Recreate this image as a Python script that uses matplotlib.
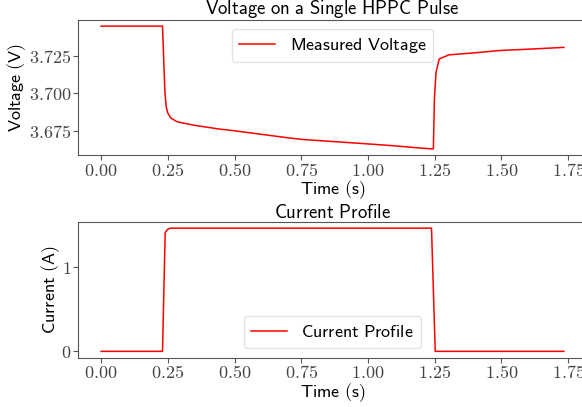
import matplotlib.pyplot as plt
from matplotlib.ticker import FuncFormatter

# time / voltage samples
volt_t = [0.00, 0.10, 0.20, 0.230, 0.235, 0.239, 0.244, 0.250, 0.260, 0.283, 0.30,
          0.35, 0.445, 0.482, 0.60, 0.70, 0.755, 0.88, 1.005, 1.10, 1.192, 1.238,
          1.245, 1.249, 1.255, 1.267, 1.304, 1.40, 1.491, 1.60, 1.734]
volt_v = [3.7444, 3.7444, 3.7444, 3.7444, 3.7200, 3.7010, 3.6910, 3.6871, 3.6840, 3.6815, 3.6808,
          3.6790, 3.6765, 3.6758, 3.6731, 3.6708, 3.6697, 3.6682, 3.6667, 3.6655, 3.6641, 3.6635,
          3.6635, 3.6970, 3.7140, 3.7228, 3.7255, 3.7268, 3.7283, 3.7292, 3.7304]

curr_t = [0.00, 0.10, 0.20, 0.230, 0.240, 0.250, 0.260, 0.50, 0.75, 1.00, 1.238, 1.252, 1.50, 1.734]
curr_a = [0.0, 0.0, 0.0, 0.0, 1.40, 1.44, 1.452, 1.452, 1.452, 1.452, 1.452, 0.0, 0.0, 0.0]

plt.rcParams["mathtext.fontset"] = "cm"
plt.rcParams["font.size"] = 13


def sf(s):
    return r"$\mathsf{" + s.replace(" ", r"\ ") + "}$"


def style(ax, fmt):
    for sp in ax.spines.values():
        sp.set_color("#555555")
    ax.tick_params(colors="#555555", labelcolor="#444444", length=3.5, width=0.8,
                   labelsize=13, pad=1.5)
    ax.xaxis.set_major_formatter(FuncFormatter(lambda v, p: "$%.2f$" % v))
    ax.yaxis.set_major_formatter(FuncFormatter(fmt))


fig = plt.figure(figsize=(5.82, 4.07), dpi=100)
ax1 = fig.add_axes([78 / 582, 1 - 155 / 407, 509 / 582, 135 / 407])
ax2 = fig.add_axes([78 / 582, 1 - 357.5 / 407, 509 / 582, 135.5 / 407])

ax1.plot(volt_t, volt_v, color="red", lw=1.1, label=sf("Measured Voltage"))
ax1.set_title(sf("Voltage on a Single HPPC Pulse"), fontsize=13.5, pad=1.5)
ax1.set_xlabel(sf("Time (s)"), labelpad=-1)
ax1.set_ylabel(sf("Voltage (V)"))
ax1.yaxis.set_label_coords(-0.098, 0.5)
ax1.set_yticks([3.675, 3.700, 3.725])
style(ax1, lambda v, p: "$%.3f$" % v)
ax1.legend(loc="upper center", fancybox=True, edgecolor="#dddddd")

ax2.plot(curr_t, curr_a, color="red", lw=1.1, label=sf("Current Profile"))
ax2.set_title(sf("Current Profile"), fontsize=13.5, pad=3)
ax2.set_xlabel(sf("Time (s)"), labelpad=-1)
ax2.set_ylabel(sf("Current (A)"))
ax2.yaxis.set_label_coords(-0.031, 0.5)
ax2.set_yticks([0, 1])
style(ax2, lambda v, p: "$%d$" % v)
ax2.legend(loc="lower center", fancybox=True, edgecolor="#dddddd")

fig.savefig("out.png", dpi=100)
